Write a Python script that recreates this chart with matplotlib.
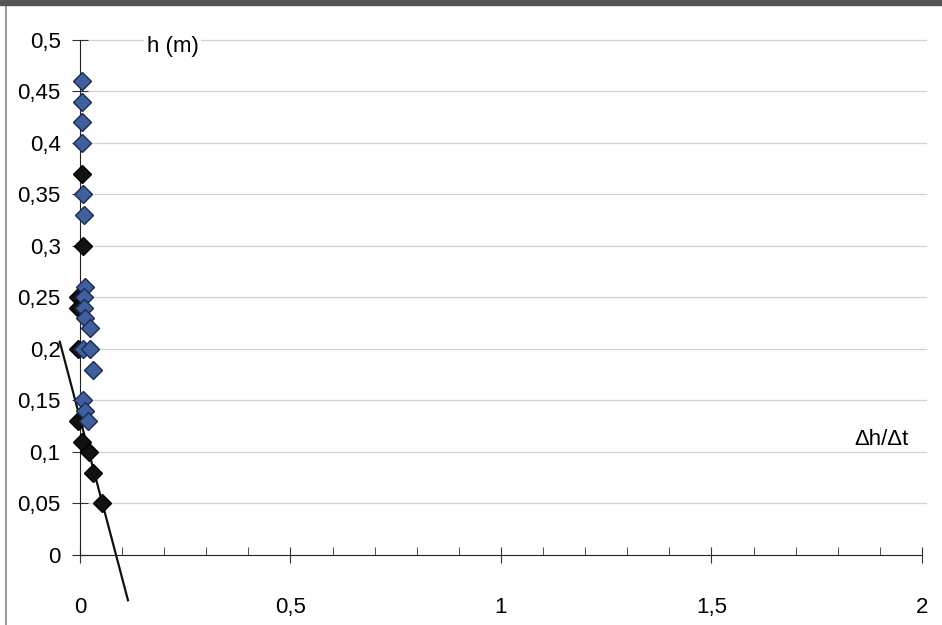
import matplotlib.pyplot as plt
from matplotlib.ticker import FuncFormatter, FixedLocator
from matplotlib.patches import Rectangle
from matplotlib.lines import Line2D

# Blauwe punten (dh/dt, h)
blue_x = [0.005, 0.005, 0.005, 0.005, 0.007, 0.010, 0.012, 0.010, 0.010, 0.012,
          0.024, 0.008, 0.024, 0.031, 0.008, 0.012, 0.020]
blue_h = [0.46, 0.44, 0.42, 0.40, 0.35, 0.33, 0.26, 0.25, 0.24, 0.23,
          0.22, 0.20, 0.20, 0.18, 0.15, 0.14, 0.13]

# Zwarte punten
black_x = [0.005, 0.008, -0.005, -0.005, -0.005, -0.005, 0.005, 0.022, 0.030, 0.052]
black_h = [0.37, 0.30, 0.25, 0.24, 0.20, 0.13, 0.11, 0.10, 0.08, 0.05]

# Trendlijn (eindpunten)
trend_x = [-0.048, 0.114]
trend_h = [0.207, -0.044]

y_ticks = [0, 0.05, 0.1, 0.15, 0.2, 0.25, 0.3, 0.35, 0.4, 0.45, 0.5]
x_ticks = [0, 0.5, 1, 1.5, 2]
x_minor = [0.1, 0.2, 0.3, 0.4, 0.6, 0.7, 0.8, 0.9, 1.1, 1.2, 1.3, 1.4, 1.6, 1.7, 1.8, 1.9]

plt.rcParams['font.family'] = ['Liberation Sans', 'DejaVu Sans']

fig = plt.figure(figsize=(9.42, 6.25), dpi=100)
ax = fig.add_axes([0, 0, 1, 1])
ax.set_xlim(-0.190, 2.0475)
ax.set_ylim(-0.068, 0.5388)
ax.patch.set_alpha(0)

# horizontale rasterlijnen
for yv in y_ticks[1:]:
    ax.plot([0, 2.01], [yv, yv], color='#d2d2d2', lw=0.9, zorder=1)

ax.spines['top'].set_visible(False)
ax.spines['right'].set_visible(False)
ax.spines['left'].set_position(('data', 0))
ax.spines['bottom'].set_position(('data', 0))
ax.spines['left'].set_bounds(0, 0.5)
ax.spines['bottom'].set_bounds(0, 2)
ax.spines['left'].set_color('#222222')
ax.spines['bottom'].set_color('#222222')

ax.set_yticks(y_ticks)
ax.set_xticks(x_ticks)
ax.xaxis.set_minor_locator(FixedLocator(x_minor))
comma = FuncFormatter(lambda v, p: ('%g' % v).replace('.', ','))
ax.xaxis.set_major_formatter(comma)
ax.yaxis.set_major_formatter(comma)
ax.tick_params(axis='y', direction='inout', length=12, pad=8, labelsize=16, color='#333333')
ax.tick_params(axis='x', which='major', direction='inout', length=12, pad=24, labelsize=16, color='#333333')
ax.tick_params(axis='x', which='minor', direction='in', length=6, color='#333333')

ax.plot(trend_x, trend_h, color='#111111', lw=1.6, zorder=2, clip_on=False)
ax.plot(black_x, black_h, 'D', ms=9, color='#111111', mec='#000000', zorder=3, clip_on=False)
ax.plot(blue_x, blue_h, 'D', ms=9, color='#3f5f9f', mec='#1a2a50', mew=1.0, zorder=4, clip_on=False)

ax.text(0.158, 0.494, 'h (m)', fontsize=16, va='center', ha='left',
        bbox=dict(facecolor='white', edgecolor='none', pad=2), zorder=5)
ax.text(1.84, 0.112, 'Δh/Δt', fontsize=16, va='center', ha='left')

# kader van de scan
fig.patches.append(Rectangle((0, 0.992), 1, 0.008, transform=fig.transFigure,
                             color='#555555', zorder=10))
fig.lines.append(Line2D([0.006, 0.006], [0, 0.992], transform=fig.transFigure,
                        color='#888888', lw=1.2))

fig.savefig('out.png', dpi=100, facecolor='white')
